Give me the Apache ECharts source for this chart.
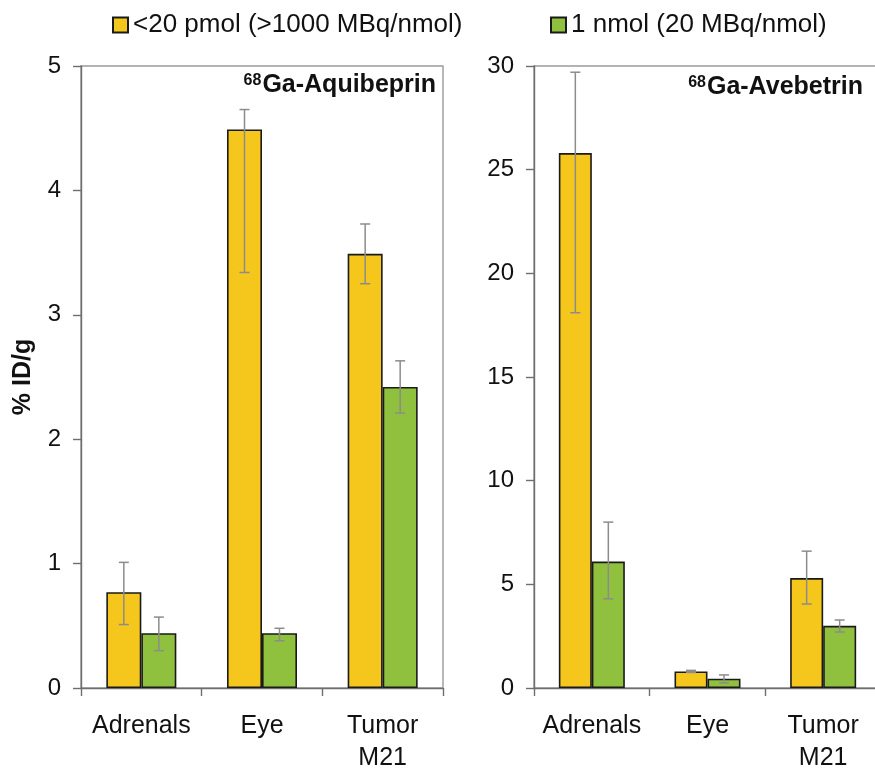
<!DOCTYPE html>
<html>
<head>
<meta charset="utf-8">
<script src="https://cdn.jsdelivr.net/npm/echarts@6/dist/echarts.min.js"></script>
<style>
  html, body { margin: 0; padding: 0; background: #fff; }
  #main { width: 875px; height: 772px; }
</style>
</head>
<body>
<div id="main"></div>
<script>
(function () {
    var categories = ['Adrenals', 'Eye', 'Tumor\nM21'];
    var seriesNames = ['<20 pmol (>1000 MBq/nmol)', '1 nmol (20 MBq/nmol)'];

    // 68Ga-Aquibeprin (left panel)
    var aquiLow = [0.77, 4.49, 3.49];
    var aquiLowErr = [[0.51, 1.01], [3.34, 4.65], [3.25, 3.73]];
    var aquiHigh = [0.44, 0.44, 2.42];
    var aquiHighErr = [[0.30, 0.57], [0.38, 0.48], [2.21, 2.63]];

    // 68Ga-Avebetrin (right panel)
    var aveLow = [25.8, 0.8, 5.3];
    var aveLowErr = [[18.1, 29.7], [0.75, 0.85], [4.05, 6.6]];
    var aveHigh = [6.1, 0.45, 3.0];
    var aveHighErr = [[4.3, 8.0], [0.25, 0.63], [2.7, 3.28]];

    var yellow = '#F5C61C';
    var green = '#8FC13E';
    var font = 'Liberation Sans, Arial, sans-serif';

    var chart = echarts.init(document.getElementById('main'));

    function errData(ranges) {
        var out = [];
        for (var i = 0; i < ranges.length; i++) {
            out.push([i, ranges[i][0], ranges[i][1]]);
        }
        return out;
    }

    function errSeries(ranges, gridIdx, offset) {
        return {
            type: 'custom',
            name: 'err',
            xAxisIndex: gridIdx,
            yAxisIndex: gridIdx,
            z: 10,
            silent: true,
            data: errData(ranges),
            renderItem: function (params, api) {
                var lo = api.coord([api.value(0), api.value(1)]);
                var hi = api.coord([api.value(0), api.value(2)]);
                var x = lo[0] + offset;
                var cap = 5;
                var style = { stroke: '#8c8c8c', lineWidth: 1.5 };
                return {
                    type: 'group',
                    children: [
                        { type: 'line', shape: { x1: x, y1: lo[1], x2: x, y2: hi[1] }, style: style },
                        { type: 'line', shape: { x1: x - cap, y1: lo[1], x2: x + cap, y2: lo[1] }, style: style },
                        { type: 'line', shape: { x1: x - cap, y1: hi[1], x2: x + cap, y2: hi[1] }, style: style }
                    ]
                };
            }
        };
    }

    function barSeries(name, values, color, gridIdx, bw) {
        return {
            type: 'bar',
            name: name,
            xAxisIndex: gridIdx,
            yAxisIndex: gridIdx,
            data: values,
            barWidth: bw,
            barGap: '0%',
            itemStyle: { color: color, borderColor: '#1a1a1a', borderWidth: 1.6 }
        };
    }

    function xAxis(gridIdx) {
        return {
            type: 'category',
            gridIndex: gridIdx,
            data: categories,
            axisLine: { lineStyle: { color: '#6e6e6e', width: 1.4 } },
            axisTick: { show: true, interval: 0, length: 8, lineStyle: { color: '#6e6e6e', width: 1.4 } },
            axisLabel: {
                interval: 0,
                hideOverlap: false,
                color: '#111', fontSize: 25, fontFamily: font,
                margin: 22, lineHeight: 32, verticalAlign: 'top'
            }
        };
    }

    function yAxis(gridIdx, max, interval, name) {
        return {
            type: 'value',
            gridIndex: gridIdx,
            min: 0,
            max: max,
            interval: interval,
            name: name,
            nameLocation: 'middle',
            nameRotate: 90,
            nameGap: 45,
            nameTextStyle: { fontSize: 25, fontWeight: 'bold', color: '#111', fontFamily: font },
            splitLine: { show: false },
            axisLine: { show: true, lineStyle: { color: '#6e6e6e', width: 1.4 } },
            axisTick: { show: true, length: 8, lineStyle: { color: '#6e6e6e', width: 1.4 } },
            axisLabel: { color: '#111', fontSize: 24, fontFamily: font, margin: 20 }
        };
    }

    var titleRich = {
        sup: { fontSize: 16, fontWeight: 'bold', fill: '#111', fontFamily: font, verticalAlign: 'top', padding: [0, 1, 9, 0] },
        t: { fontSize: 25, fontWeight: 'bold', fill: '#111', fontFamily: font }
    };

    var legendText = { fontSize: 26, color: '#111', fontFamily: font };

    var option = {
        backgroundColor: '#fff',
        animation: false,
        textStyle: { fontFamily: font },
        legend: [{
            data: [seriesNames[0]],
            left: 107, top: 7,
            itemWidth: 15, itemHeight: 15,
            icon: 'rect',
            textStyle: legendText
        }, {
            data: [seriesNames[1]],
            left: 545, top: 7,
            itemWidth: 15, itemHeight: 15,
            icon: 'rect',
            textStyle: legendText
        }],
        grid: [
            { left: 81, top: 66, width: 362, height: 622, outerBoundsMode: 'none', containLabel: false, show: true, borderColor: '#9a9a9a', borderWidth: 1.4, backgroundColor: 'transparent' },
            { left: 534, top: 66, width: 347, height: 622, outerBoundsMode: 'none', containLabel: false, show: true, borderColor: '#9a9a9a', borderWidth: 1.4, backgroundColor: 'transparent' }
        ],
        xAxis: [xAxis(0), xAxis(1)],
        yAxis: [yAxis(0, 5, 1, '% ID/g'), yAxis(1, 30, 5, '')],
        graphic: [{
            type: 'text',
            x: 436, y: 73,
            style: {
                text: '{sup|68}{t|Ga-Aquibeprin}',
                align: 'right',
                rich: titleRich
            }
        }, {
            type: 'text',
            x: 863, y: 75,
            style: {
                text: '{sup|68}{t|Ga-Avebetrin}',
                align: 'right',
                rich: titleRich
            }
        }],
        series: [
            barSeries(seriesNames[0], aquiLow, yellow, 0, 35),
            barSeries(seriesNames[1], aquiHigh, green, 0, 35),
            barSeries(seriesNames[0], aveLow, yellow, 1, 33),
            barSeries(seriesNames[1], aveHigh, green, 1, 33),
            errSeries(aquiLowErr, 0, -17.5),
            errSeries(aquiHighErr, 0, 17.5),
            errSeries(aveLowErr, 1, -16.5),
            errSeries(aveHighErr, 1, 16.5)
        ]
    };

    chart.setOption(option);
})();
</script>
</body>
</html>
